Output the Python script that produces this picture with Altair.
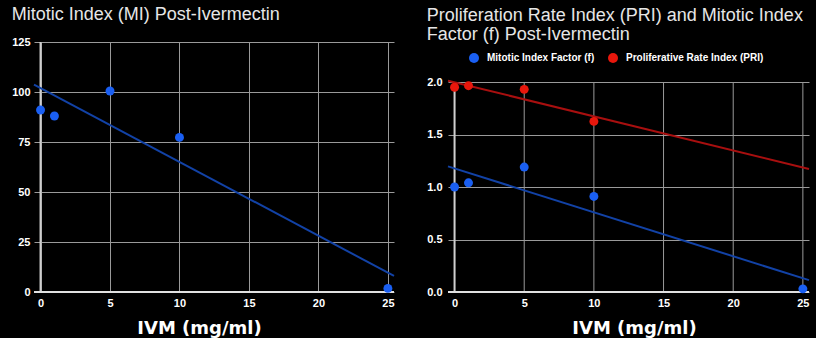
import altair as alt
import pandas as pd

# ---- data ----
doses = [0, 1, 5, 10, 25]
mi_values = [91, 88, 100.5, 77.3, 1.8]
f_values = [1.0, 1.04, 1.19, 0.91, 0.03]
pri_doses = [0, 1, 5, 10]
pri_values = [1.95, 1.965, 1.93, 1.625]

x_ticks = [0, 5, 10, 15, 20, 25]
mi_ticks = [0, 25, 50, 75, 100, 125]
ratio_ticks = [0, 0.5, 1.0, 1.5, 2.0]
series_names = ["Mitotic Index Factor (f)", "Proliferative Rate Index (PRI)"]
point_colors = ["#1a5ff2", "#e8170c"]
line_colors = ["#1242a6", "#a80f0f"]
X_DOMAIN = [-0.47, 25.44]
RATIO_TOP = 2.0
# right plot is drawn 250px tall like the left one; its gridded part ends at 2.0 (210px)
RATIO_DOMAIN = [0, RATIO_TOP * 250 / 210]

left_df = pd.DataFrame({"dose": doses, "mi": mi_values})
right_df = pd.concat([
    pd.DataFrame({"dose": doses, "value": f_values, "series": series_names[0]}),
    pd.DataFrame({"dose": pri_doses, "value": pri_values, "series": series_names[1]}),
], ignore_index=True)
one_row = pd.DataFrame({"k": [0]})
tick_df = pd.DataFrame({"t": x_ticks})

GRID = "#9a9a9a"
LABEL_FONT = "Liberation Sans"


def x_axis(title_x, grid=True):
    return alt.Axis(values=x_ticks, grid=grid, gridColor=GRID, gridWidth=1,
                    domain=False, ticks=False, labelFont=LABEL_FONT,
                    labelFontWeight="bold", labelFontSize=11, labelColor="white",
                    labelPadding=5, labelFlush=False, labelOverlap=False,
                    title="IVM (mg/ml)", titleFont="DejaVu Sans",
                    titleFontWeight="bold", titleFontSize=18, titleColor="white",
                    titlePadding=11, titleX=title_x)


def y_axis(values, fmt, pad):
    return alt.Axis(values=values, format=fmt, grid=True, gridColor=GRID,
                    gridWidth=1, domain=False, ticks=False, labelFont=LABEL_FONT,
                    labelFontWeight="bold", labelFontSize=11, labelColor="white",
                    labelPadding=pad, title=None, labelOverlap=False)


xs = alt.Scale(domain=X_DOMAIN, nice=False, zero=False)

# ---------------- left panel ----------------
ys_l = alt.Scale(domain=[0, 125], nice=False)
l_base_x = alt.Chart(one_row).mark_rule(color="#cfcfcf", strokeWidth=2).encode(
    x=alt.X("dose:Q", scale=xs, axis=x_axis(165))).transform_calculate(dose="0")
l_base_y = alt.Chart(one_row).mark_rule(color="#e0e0e0", strokeWidth=2).encode(
    y=alt.Y("mi:Q", scale=ys_l, axis=y_axis(mi_ticks, "d", 4))).transform_calculate(mi="0")
l_line = alt.Chart(left_df).transform_regression(
    "dose", "mi", extent=X_DOMAIN).mark_line(color=line_colors[0], strokeWidth=2).encode(
    x=alt.X("dose:Q", scale=xs), y=alt.Y("mi:Q", scale=ys_l))
l_pts = alt.Chart(left_df).mark_circle(size=80, opacity=1, color=point_colors[0]).encode(
    x=alt.X("dose:Q", scale=xs), y=alt.Y("mi:Q", scale=ys_l))

left = alt.layer(l_base_x, l_base_y, l_line, l_pts).properties(
    width=360, height=250,
    title=alt.TitleParams(text="Mitotic Index (MI) Post-Ivermectin", anchor="start",
                          frame="bounds", font=LABEL_FONT, fontSize=18,
                          fontWeight="normal", color="#e6e6e6", offset=12))

# ---------------- right panel ----------------
ys_r = alt.Scale(domain=RATIO_DOMAIN, nice=False)
r_vgrid = alt.Chart(tick_df).mark_rule(color=GRID, strokeWidth=1).transform_calculate(
    lo="0", hi=str(RATIO_TOP)).encode(
    x=alt.X("t:Q", scale=xs, axis=x_axis(186, grid=False)),
    y=alt.Y("lo:Q", scale=ys_r), y2="hi:Q")
r_base_x = alt.Chart(one_row).mark_rule(color="#cfcfcf", strokeWidth=2).transform_calculate(
    dose="0", lo="0", hi=str(RATIO_TOP)).encode(
    x=alt.X("dose:Q", scale=xs), y=alt.Y("lo:Q", scale=ys_r), y2="hi:Q")
r_base_y = alt.Chart(one_row).mark_rule(color="#e0e0e0", strokeWidth=2).encode(
    y=alt.Y("value:Q", scale=ys_r, axis=y_axis(ratio_ticks, ".1f", 6))).transform_calculate(value="0")

r_lines = []
for name, col in zip(series_names, line_colors):
    r_lines.append(
        alt.Chart(right_df).transform_filter(alt.datum.series == name)
        .transform_regression("dose", "value", extent=X_DOMAIN)
        .mark_line(color=col, strokeWidth=2)
        .encode(x=alt.X("dose:Q", scale=xs), y=alt.Y("value:Q", scale=ys_r)))

r_pts = alt.Chart(right_df).mark_circle(size=80, opacity=1).encode(
    x=alt.X("dose:Q", scale=xs),
    y=alt.Y("value:Q", scale=ys_r),
    color=alt.Color("series:N", scale=alt.Scale(domain=series_names, range=point_colors),
                    legend=alt.Legend(title=None, orient="none", legendX=21, legendY=11,
                                      direction="horizontal", symbolType="circle",
                                      symbolSize=100, symbolStrokeWidth=0,
                                      symbolOpacity=1, labelFont=LABEL_FONT,
                                      labelFontWeight="bold", labelFontSize=10,
                                      labelColor="white", columnPadding=13,
                                      labelOffset=8)))

right = alt.layer(r_vgrid, r_base_x, r_base_y, *r_lines, r_pts).properties(
    width=361, height=250,
    title=alt.TitleParams(text=["Proliferation Rate Index (PRI) and Mitotic Index",
                                "Factor (f) Post-Ivermectin"],
                          anchor="start", frame="bounds", font=LABEL_FONT,
                          fontSize=18, fontWeight="normal", color="#e6e6e6",
                          lineHeight=19, offset=-2))

chart = alt.concat(left, right, columns=2, spacing=27).resolve_legend(
    color="independent").resolve_scale(color="independent").properties(
    padding={"left": 11, "top": 5, "right": 2, "bottom": 0}
).configure(background="black").configure_view(stroke="transparent")

chart.save("out.html", embed_options={"renderer": "svg", "actions": False})
